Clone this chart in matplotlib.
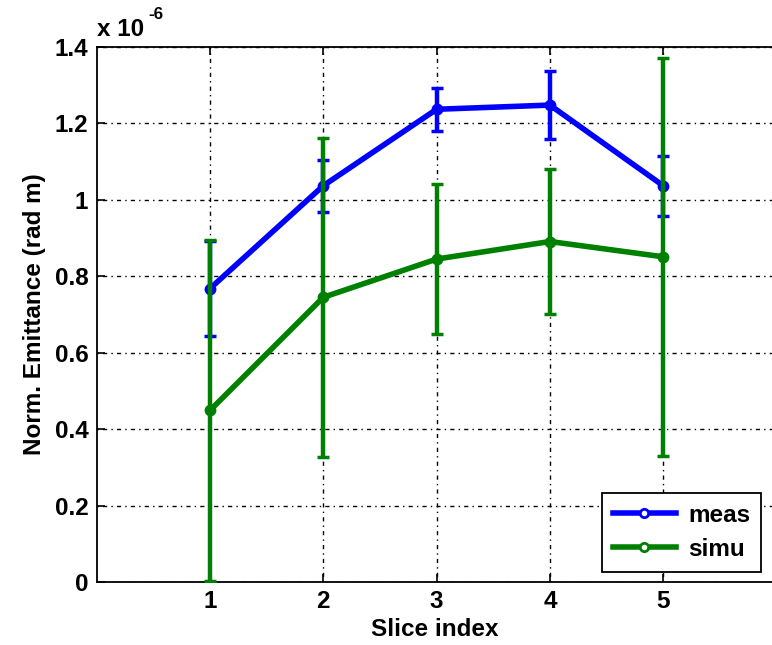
import numpy as np
import matplotlib
matplotlib.use("Agg")
from matplotlib import pyplot as plt
from matplotlib.lines import Line2D

# Datos (unidades de 1e-6 rad m)
slices = [1, 2, 3, 4, 5]
meas = [0.768, 1.037, 1.237, 1.248, 1.037]
meas_err = [0.125, 0.068, 0.057, 0.09, 0.079]
simu = [0.449, 0.745, 0.845, 0.891, 0.851]
simu_err = [0.446, 0.418, 0.196, 0.19, 0.52]
y_ticks = [0, 0.2, 0.4, 0.6, 0.8, 1, 1.2, 1.4]

plt.rcParams['font.family'] = ['Liberation Sans', 'DejaVu Sans']
plt.rcParams['font.weight'] = 'bold'

fig = plt.figure(figsize=(7.72, 6.45), dpi=100)
# el eje llega hasta el borde derecho de la imagen (el original esta recortado)
left_px, right_px = 96.7, 772.0
ax = fig.add_axes([left_px / 772, 63 / 645, (right_px - left_px) / 772, 535 / 645])

fs = 17.5
blue = (0, 0, 1)
green = (0, 0.5, 0)
kw = dict(linewidth=4.0, elinewidth=3.2, capsize=4.5, capthick=3.5,
          marker='o', markersize=6, markeredgewidth=2.5)
ax.errorbar(slices, meas, yerr=meas_err, color=blue, zorder=3, **kw)
ax.errorbar(slices, simu, yerr=simu_err, color=green, zorder=4, **kw)

ax.set_xlim(0, 6 * (right_px - left_px) / 679.8)
ax.set_ylim(0, 1.4)
ax.set_xticks(slices)
ax.set_yticks(y_ticks)
ax.set_yticklabels(['%g' % v for v in y_ticks])
ax.grid(True, color='black', linestyle=(0, (1, 3, 3, 3)), linewidth=1.0)
ax.set_axisbelow(True)
ax.tick_params(direction='in', length=6, width=1.2, top=True, right=False,
               labelsize=fs, pad=6)
for s in ax.spines.values():
    s.set_linewidth(1.3)
ax.spines['right'].set_visible(False)

ax.set_xlabel('Slice index', fontsize=fs, fontweight='bold', labelpad=3)
ax.set_ylabel('Norm. Emittance (rad m)', fontsize=fs, fontweight='bold', labelpad=6)
ax.text(0.0, 1.012, 'x 10', transform=ax.transAxes, ha='left', va='bottom',
        fontsize=fs, fontweight='bold')
ax.text(0.077, 1.046, '-6', transform=ax.transAxes, ha='left', va='bottom',
        fontsize=fs * 0.7, fontweight='bold')

handles = [Line2D([], [], color=blue, lw=4.0, marker='o', ms=6, mfc='white', mew=2),
           Line2D([], [], color=green, lw=4.0, marker='o', ms=6, mfc='white', mew=2)]
leg = ax.legend(handles, ['meas', 'simu'], loc='lower right',
                bbox_to_anchor=((761 - left_px) / (right_px - left_px), 0.019),
                borderaxespad=0, fontsize=fs, handlelength=2.6, handletextpad=0.5,
                fancybox=False, framealpha=1, edgecolor='black', borderpad=0.45,
                labelspacing=0.45)
leg.get_frame().set_linewidth(1.3)

fig.savefig('out.png', dpi=100, facecolor='white')
